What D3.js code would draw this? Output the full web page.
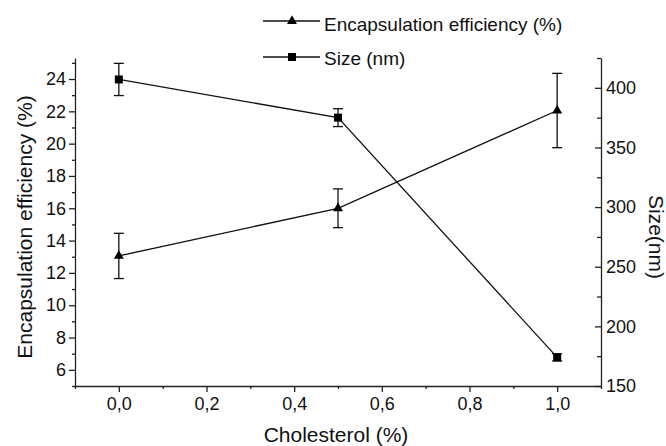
<!DOCTYPE html>
<html>
<head>
<meta charset="utf-8">
<script src="https://cdn.jsdelivr.net/npm/d3@7"></script>
<style>
    body { margin: 0; background: #fff; }
    svg { font-family: "Liberation Sans", Arial, sans-serif; }
    .axis path, .axis line { stroke: #222; stroke-width: 1.3; }
    .axis text { fill: #111; font-size: 18px; }
</style>
</head>
<body>
<svg id="chart" width="666" height="446"></svg>
<script>
// data
const cholesterol = [0.0, 0.5, 1.0];
const efficiency = [13.05, 16.0, 22.05];
const efficiencyErr = [1.4, 1.2, 2.3];
const sizeNm = [407, 375, 174];
const sizeErr = [13.5, 7.5, 3];

const xTicks = [0.0, 0.2, 0.4, 0.6, 0.8, 1.0];
const xMinorTicks = [-0.1, 0.1, 0.3, 0.5, 0.7, 0.9, 1.1];
const leftTicks = [6, 8, 10, 12, 14, 16, 18, 20, 22, 24];
const leftMinorTicks = [5, 7, 9, 11, 13, 15, 17, 19, 21, 23, 25];
const rightTicks = [150, 200, 250, 300, 350, 400];
const rightMinorTicks = [175, 225, 275, 325, 375, 425];

const svg = d3.select("#chart");

const x = d3.scaleLinear().domain([-0.1, 1.1]).range([75, 601]);
const yLeft = d3.scaleLinear().domain([5, 25.3]).range([386, 58]);
const yRight = d3.scaleLinear().domain([150, 425]).range([386, 58]);

const commaFmt = d => d3.format(".1f")(d).replace(".", ",");

// minor ticks first, no labels
svg.append("g").attr("class", "axis")
    .attr("transform", "translate(0,386)")
    .call(d3.axisBottom(x).tickValues(xMinorTicks).tickSize(3).tickFormat(""))
    .select(".domain").remove();
svg.append("g").attr("class", "axis")
    .attr("transform", "translate(75,0)")
    .call(d3.axisLeft(yLeft).tickValues(leftMinorTicks).tickSize(3).tickFormat(""))
    .select(".domain").remove();
svg.append("g").attr("class", "axis")
    .attr("transform", "translate(601,0)")
    .call(d3.axisRight(yRight).tickValues(rightMinorTicks).tickSize(-4).tickFormat(""))
    .select(".domain").remove();

// major axes
svg.append("g").attr("class", "axis")
    .attr("transform", "translate(0,386)")
    .call(d3.axisBottom(x).tickValues(xTicks).tickSize(6).tickSizeOuter(0).tickPadding(5).tickFormat(commaFmt));
svg.append("g").attr("class", "axis")
    .attr("transform", "translate(75,0)")
    .call(d3.axisLeft(yLeft).tickValues(leftTicks).tickSize(6).tickSizeOuter(0).tickPadding(3));
svg.append("g").attr("class", "axis")
    .attr("transform", "translate(601,0)")
    .call(d3.axisRight(yRight).tickValues(rightTicks).tickSize(-6).tickSizeOuter(0).tickPadding(5));

svg.selectAll(".axis text").attr("font-family", null);

// axis titles
svg.append("text")
    .attr("x", 336).attr("y", 442)
    .attr("text-anchor", "middle")
    .attr("font-size", 21).attr("fill", "#111")
    .text("Cholesterol (%)");

svg.append("text")
    .attr("transform", "translate(24,227) rotate(-90)")
    .attr("text-anchor", "middle")
    .attr("dominant-baseline", "central")
    .attr("font-size", 21).attr("fill", "#111")
    .text("Encapsulation efficiency (%)");

svg.append("text")
    .attr("transform", "translate(656,237) rotate(90)")
    .attr("text-anchor", "middle")
    .attr("dominant-baseline", "central")
    .attr("font-size", 21).attr("fill", "#111")
    .text("Size(nm)");

const triangle = d3.symbol().type(d3.symbolTriangle).size(43);
const square = d3.symbol().type(d3.symbolSquare).size(64);

/**
 * Draw one series: connecting line, error bars with caps, markers.
 */
function drawSeries(values, errors, yScale, symbol) {
    const pts = cholesterol.map((c, i) => ({ x: c, y: values[i], e: errors[i] }));
    const g = svg.append("g");

    g.append("path")
        .datum(pts)
        .attr("fill", "none")
        .attr("stroke", "#111")
        .attr("stroke-width", 1.3)
        .attr("d", d3.line().x(d => x(d.x)).y(d => yScale(d.y)));

    const bars = g.selectAll(".err")
        .data(pts)
        .enter().append("g")
        .attr("stroke", "#111")
        .attr("stroke-width", 1.3);
    bars.append("line")
        .attr("x1", d => x(d.x)).attr("x2", d => x(d.x))
        .attr("y1", d => yScale(d.y - d.e)).attr("y2", d => yScale(d.y + d.e));
    bars.append("line")
        .attr("x1", d => x(d.x) - 5).attr("x2", d => x(d.x) + 5)
        .attr("y1", d => yScale(d.y + d.e)).attr("y2", d => yScale(d.y + d.e));
    bars.append("line")
        .attr("x1", d => x(d.x) - 5).attr("x2", d => x(d.x) + 5)
        .attr("y1", d => yScale(d.y - d.e)).attr("y2", d => yScale(d.y - d.e));

    g.selectAll(".marker")
        .data(pts)
        .enter().append("path")
        .attr("transform", d => `translate(${x(d.x)},${yScale(d.y)})`)
        .attr("d", symbol)
        .attr("fill", "#000");
}

drawSeries(efficiency, efficiencyErr, yLeft, triangle);
drawSeries(sizeNm, sizeErr, yRight, square);

// legend
const legendItems = [
    { label: "Encapsulation efficiency (%)", symbol: triangle, y: 21, textY: 31 },
    { label: "Size (nm)", symbol: square, y: 57, textY: 65 }
];
const legend = svg.selectAll(".legend")
    .data(legendItems)
    .enter().append("g");
legend.append("line")
    .attr("x1", 263).attr("x2", 320)
    .attr("y1", d => d.y).attr("y2", d => d.y)
    .attr("stroke", "#111").attr("stroke-width", 1.3);
legend.append("path")
    .attr("transform", d => `translate(292,${d.y})`)
    .attr("d", d => d.symbol())
    .attr("fill", "#000");
legend.append("text")
    .attr("x", 324).attr("y", d => d.textY)
    .attr("font-size", 19).attr("fill", "#111")
    .text(d => d.label);
</script>
</body>
</html>
